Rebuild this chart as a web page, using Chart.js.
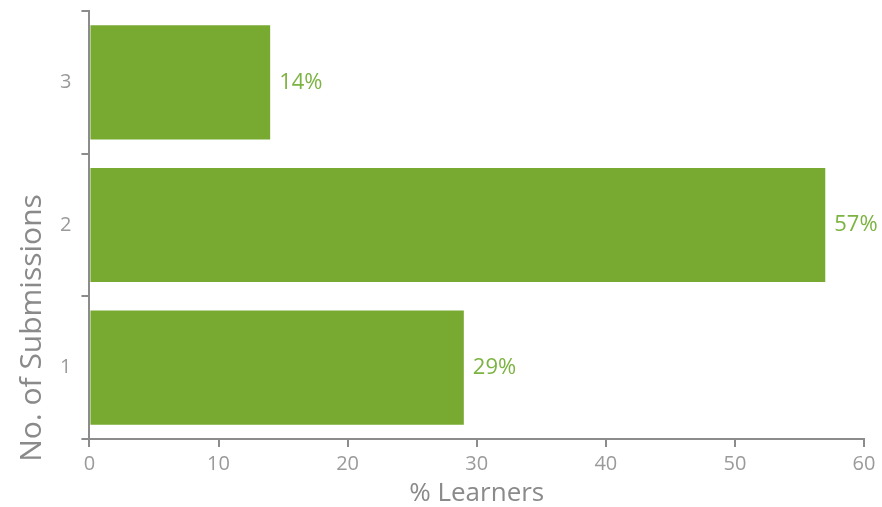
<!DOCTYPE html>
<html>
<head>
<meta charset="utf-8">
<script src="https://cdn.jsdelivr.net/npm/chart.js@4"></script>
<style>
  html, body { margin: 0; padding: 0; background: #fff; }
  #wrap { width: 882px; height: 507px; }
</style>
</head>
<body>
<div id="wrap"><canvas id="myChart"></canvas></div>
<script>
// Datos de la grafica
const submissions = ['1', '2', '3'];
const learnersPct = [29, 57, 14];
const xTicks = [0, 10, 20, 30, 40, 50, 60];
const yTitulo = 'No. of Submissions';

const verde = '#78a931';
const gris = '#8c8c8c';
const fuente = "'Open Sans', 'Noto Sans', sans-serif";

// Etiqueta con el porcentaje al final de cada barra
const etiquetas = {
  id: 'etiquetas',
  afterDatasetsDraw(chart) {
    const ctx = chart.ctx;
    const meta = chart.getDatasetMeta(0);
    ctx.save();
    ctx.fillStyle = '#7cb342';
    ctx.font = '22px ' + fuente;
    ctx.textBaseline = 'middle';
    ctx.textAlign = 'left';
    meta.data.forEach((bar, i) => {
      ctx.fillText(learnersPct[i] + '%', bar.x + 9, bar.y);
    });
    ctx.restore();
  }
};

// Titulo del eje Y, algo mas abajo que el centro como en la original
const tituloY = {
  id: 'tituloY',
  afterDraw(chart) {
    const ctx = chart.ctx;
    ctx.save();
    ctx.translate(32, 328);
    ctx.rotate(-Math.PI / 2);
    ctx.fillStyle = '#8a8a8a';
    ctx.font = '30px ' + fuente;
    ctx.textAlign = 'center';
    ctx.textBaseline = 'middle';
    ctx.fillText(yTitulo, 0, 0);
    ctx.restore();
  }
};

new Chart(document.getElementById('myChart'), {
  type: 'bar',
  data: {
    labels: submissions,
    datasets: [{
      data: learnersPct,
      backgroundColor: verde,
      borderWidth: 0,
      categoryPercentage: 0.8,
      barPercentage: 1
    }]
  },
  options: {
    indexAxis: 'y',
    responsive: true,
    maintainAspectRatio: false,
    animation: false,
    layout: { padding: { top: 0, right: 18, left: 50, bottom: 0 } },
    plugins: {
      legend: { display: false },
      tooltip: { enabled: false }
    },
    scales: {
      x: {
        min: 0,
        max: 60,
        afterBuildTicks(axis) {
          axis.ticks = xTicks.map(v => ({ value: v }));
        },
        border: { color: gris, width: 2 },
        grid: { drawOnChartArea: false, color: gris, tickLength: 8, lineWidth: 2 },
        ticks: { color: '#9a9a9a', font: { family: fuente, size: 20 }, padding: 5 },
        title: {
          display: true,
          text: '% Learners',
          color: '#8a8a8a',
          font: { family: fuente, size: 26, lineHeight: 1.0 },
          padding: { top: 0, bottom: 0 }
        }
      },
      y: {
        reverse: true,
        border: { color: gris, width: 2 },
        grid: { drawOnChartArea: false, color: gris, tickLength: 8, lineWidth: 2, offset: true },
        ticks: { color: '#9a9a9a', font: { family: fuente, size: 20, lineHeight: 0.1 }, padding: 10 }
      }
    }
  },
  plugins: [etiquetas, tituloY]
});
</script>
</body>
</html>
